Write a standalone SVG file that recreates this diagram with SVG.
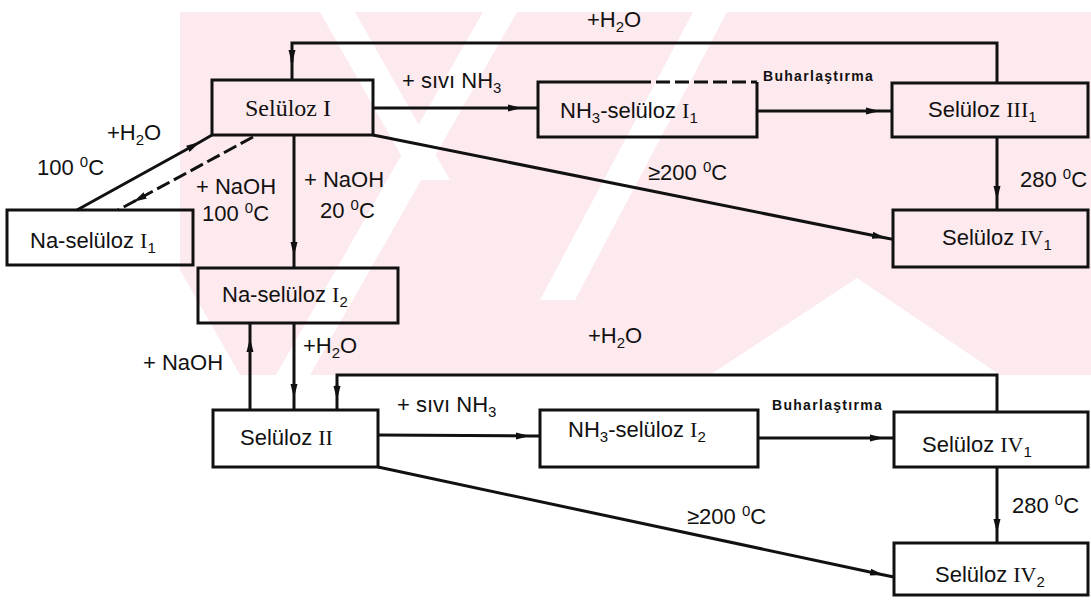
<svg xmlns="http://www.w3.org/2000/svg" width="1091" height="602" viewBox="0 0 1091 602">
<style>
.bx{fill:none;stroke:#111;stroke-width:3}
.ln{fill:none;stroke:#111;stroke-width:3}
.dl{fill:none;stroke:#111;stroke-width:3;stroke-dasharray:14 5}
.t{font-family:"Liberation Sans",Arial,sans-serif;font-size:22px;fill:#111}
.s{font-family:"Liberation Serif","Times New Roman",serif;fill:#111}
.b{font-family:"Liberation Sans",Arial,sans-serif;font-size:14px;font-weight:bold;fill:#111}
.wm{fill:#fdeaee}
</style>
<defs>
<marker id="ah" markerUnits="userSpaceOnUse" markerWidth="16" markerHeight="10" refX="14" refY="4" orient="auto">
<path d="M0,0.5 L14,4 L0,7.5 z" fill="#111"/>
</marker>
</defs>
<rect width="1091" height="602" fill="#fff"/>
<g id="watermark">
<rect class="wm" x="180" y="12" width="911" height="363"/>
<polygon points="320,12 355,12 450,180 415,180" fill="#fff"/>
<polygon points="483,12 517,12 310,375 276,375" fill="#fff"/>
<polygon points="857,278 1000,375 710,375" fill="#fff"/>
<polygon points="693,12 727,12 575,300 540,300" fill="#fff"/>
<polygon points="180,270 240,375 180,375" fill="#fff"/>
</g>
<g id="connectors">
<path class="ln" d="M997,83 V43 H292 V62"/>
<path class="ln" d="M292,50 L292,64 L292,80" marker-mid="url(#ah)"/>
<path class="ln" d="M373,108 L522,108 L538,108" marker-mid="url(#ah)"/>
<path class="ln" d="M757,111 L880,111 L892,111" marker-mid="url(#ah)"/>
<path class="ln" d="M997,137 L997,200 L997,210" marker-mid="url(#ah)"/>
<path class="ln" d="M373,135 L886,238 L893,239.4" marker-mid="url(#ah)"/>
<path class="ln" d="M294,135 L294,256 L294,268" marker-mid="url(#ah)"/>
<path class="ln" d="M77,210 L200,142 L212,135" marker-mid="url(#ah)"/>
<path class="dl" d="M253,137 L133,202 L118,210" marker-mid="url(#ah)"/>
<path class="ln" d="M250,410 L250,338 L250,323" marker-mid="url(#ah)"/>
<path class="ln" d="M294,323 L294,398 L294,410" marker-mid="url(#ah)"/>
<path class="ln" d="M997,412 V375 H337 V390"/>
<path class="ln" d="M337,385 L337,400 L337,410" marker-mid="url(#ah)"/>
<path class="ln" d="M378,435 L530,436 L540,436" marker-mid="url(#ah)"/>
<path class="ln" d="M758,438 L884,438 L894,438" marker-mid="url(#ah)"/>
<path class="ln" d="M997,467 L997,533 L997,543" marker-mid="url(#ah)"/>
<path class="ln" d="M378,467 L884,575 L894,577" marker-mid="url(#ah)"/>
<text class="t" x="587" y="27">+H<tspan font-size="15" dy="5">2</tspan><tspan dy="-5">O</tspan></text>
<text class="t" x="402" y="88">+ sıvı NH<tspan font-size="15" dy="5">3</tspan></text>
<text class="b" x="763" y="81" letter-spacing="1.3">Buharlaştırma</text>
<text class="t" x="107" y="140">+H<tspan font-size="15" dy="5">2</tspan><tspan dy="-5">O</tspan></text>
<text class="t" x="37" y="175">100 <tspan font-size="15" dy="-8">0</tspan><tspan dy="8">C</tspan></text>
<text class="t" x="196" y="194">+ NaOH</text>
<text class="t" x="202" y="221">100 <tspan font-size="15" dy="-8">0</tspan><tspan dy="8">C</tspan></text>
<text class="t" x="304" y="187">+ NaOH</text>
<text class="t" x="320" y="218">20 <tspan font-size="15" dy="-8">0</tspan><tspan dy="8">C</tspan></text>
<text class="t" x="648" y="180">≥200 <tspan font-size="15" dy="-8">0</tspan><tspan dy="8">C</tspan></text>
<text class="t" x="1020" y="187">280 <tspan font-size="15" dy="-8">0</tspan><tspan dy="8">C</tspan></text>
<text class="t" x="143" y="370">+ NaOH</text>
<text class="t" x="303" y="353">+H<tspan font-size="15" dy="5">2</tspan><tspan dy="-5">O</tspan></text>
<text class="t" x="588" y="343">+H<tspan font-size="15" dy="5">2</tspan><tspan dy="-5">O</tspan></text>
<text class="t" x="397" y="412">+ sıvı NH<tspan font-size="15" dy="5">3</tspan></text>
<text class="b" x="772" y="410" letter-spacing="1.3">Buharlaştırma</text>
<text class="t" x="687" y="524">≥200 <tspan font-size="15" dy="-8">0</tspan><tspan dy="8">C</tspan></text>
<text class="t" x="1012" y="513">280 <tspan font-size="15" dy="-8">0</tspan><tspan dy="8">C</tspan></text>
</g>
<g id="n-selulozI">
<rect class="bx" x="212" y="80" width="161" height="55"/>
<text class="s" x="245" y="116" font-size="24">Selüloz I</text>
</g>
<g id="n-nh3I1">
<path class="bx" d="M637,82 H538 V137 H757 V82"/>
<path class="dl" d="M637,82 H757" stroke-dasharray="10 6"/>
<text class="t" x="560" y="118">NH<tspan font-size="15" dy="5">3</tspan><tspan dy="-5">-selüloz </tspan><tspan class="s">I</tspan><tspan font-size="15" dy="5">1</tspan></text>
</g>
<g id="n-selulozIII1">
<rect class="bx" x="892" y="83" width="196" height="54"/>
<text class="t" x="928" y="117">Selüloz <tspan class="s">III</tspan><tspan font-size="15" dy="5">1</tspan></text>
</g>
<g id="n-selulozIV1a">
<rect class="bx" x="893" y="210" width="195" height="57"/>
<text class="t" x="942" y="245">Selüloz <tspan class="s">IV</tspan><tspan font-size="15" dy="5">1</tspan></text>
</g>
<g id="n-naI1">
<rect class="bx" x="7" y="210" width="186" height="55"/>
<text class="t" x="30" y="248">Na-selüloz <tspan class="s">I</tspan><tspan font-size="15" dy="5">1</tspan></text>
</g>
<g id="n-naI2">
<rect class="bx" x="198" y="268" width="200" height="55"/>
<text class="t" x="222" y="302">Na-selüloz <tspan class="s">I</tspan><tspan font-size="15" dy="5">2</tspan></text>
</g>
<g id="n-selulozII">
<rect class="bx" x="213" y="410" width="165" height="57"/>
<text class="t" x="240" y="445">Selüloz <tspan class="s">II</tspan></text>
</g>
<g id="n-nh3I2">
<rect class="bx" x="540" y="410" width="218" height="57"/>
<text class="t" x="568" y="437">NH<tspan font-size="15" dy="5">3</tspan><tspan dy="-5">-selüloz </tspan><tspan class="s">I</tspan><tspan font-size="15" dy="5">2</tspan></text>
</g>
<g id="n-selulozIV1b">
<rect class="bx" x="894" y="412" width="194" height="55"/>
<text class="t" x="922" y="452">Selüloz <tspan class="s">IV</tspan><tspan font-size="15" dy="5">1</tspan></text>
</g>
<g id="n-selulozIV2">
<rect class="bx" x="894" y="543" width="194" height="52"/>
<text class="t" x="935" y="582">Selüloz <tspan class="s">IV</tspan><tspan font-size="15" dy="5">2</tspan></text>
</g>
</svg>
